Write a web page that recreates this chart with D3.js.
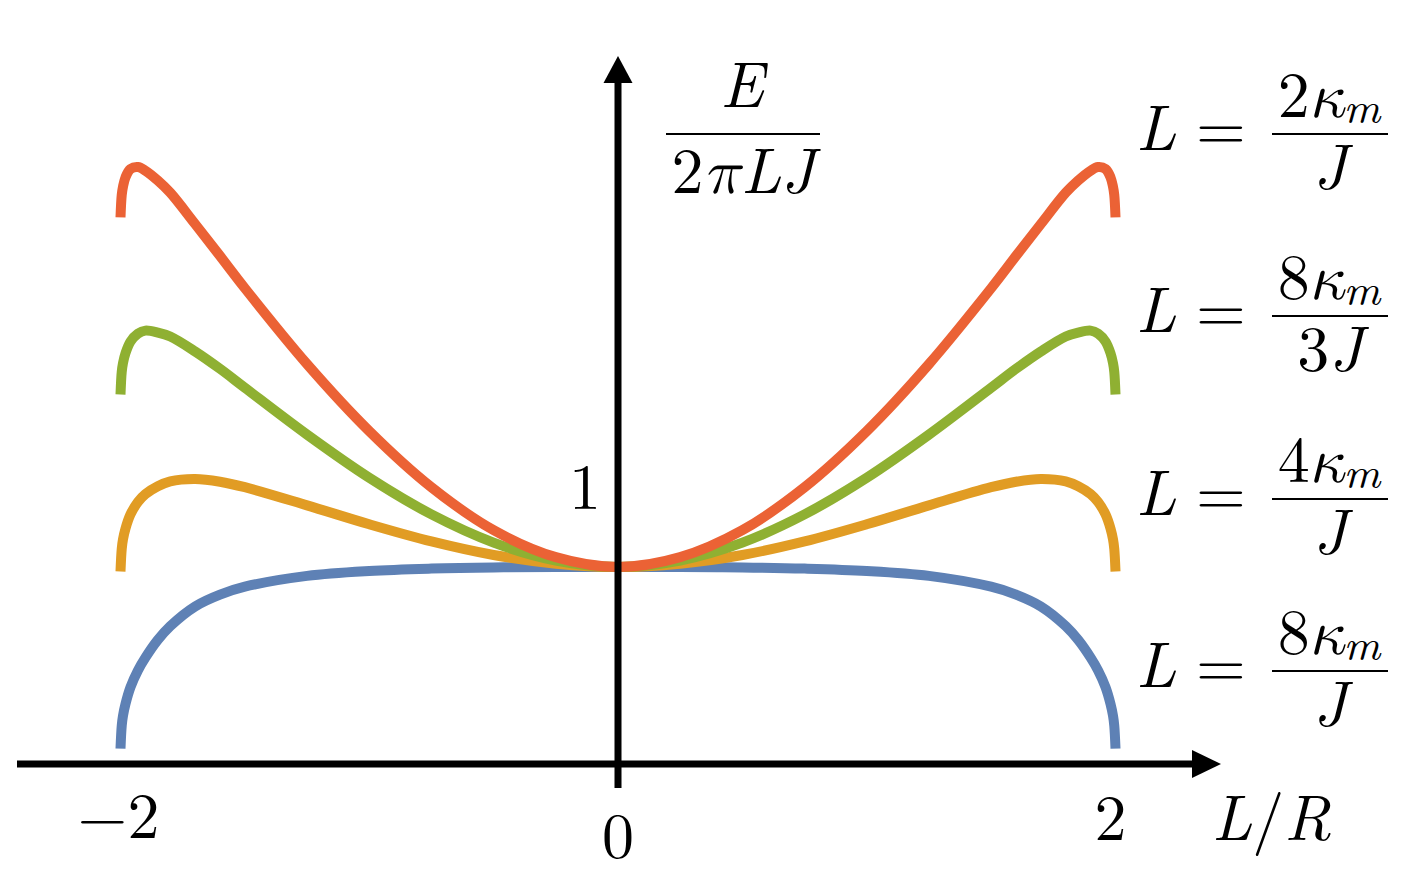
<!DOCTYPE html>
<html><head><meta charset="utf-8">
<script src="https://cdn.jsdelivr.net/npm/d3@7"></script>
<style>
body{margin:0;background:#fff}
svg{display:block}
text{font-family:"Latin Modern Roman","Liberation Serif",serif;fill:#000}
</style>
</head><body>
<svg id="c" width="1412" height="888"></svg>
<script>
// ---- data ----
const xVals = [-2, -1.995, -1.99, -1.98, -1.96, -1.93, -1.9, -1.85, -1.8, -1.7, -1.6, -1.5, -1.25, -1, -0.75, -0.5, -0.25,
  0, 0.25, 0.5, 0.75, 1, 1.25, 1.5, 1.6, 1.7, 1.8, 1.85, 1.9, 1.93, 1.96, 1.98, 1.99, 1.995, 2];

// L = 8κm/J
const blueVals = [0.078, 0.195, 0.245, 0.305, 0.39, 0.475, 0.54, 0.63, 0.70, 0.80, 0.86, 0.90, 0.955, 0.98, 0.992, 0.998, 1.0,
  1.0, 1.0, 0.998, 0.992, 0.98, 0.955, 0.90, 0.86, 0.80, 0.70, 0.63, 0.54, 0.475, 0.39, 0.305, 0.245, 0.195, 0.078];
// L = 4κm/J
const orangeVals = [0.977, 1.093, 1.14, 1.195, 1.267, 1.33, 1.37, 1.41, 1.435, 1.447, 1.433, 1.405, 1.313, 1.217, 1.13, 1.061, 1.017,
  1.0, 1.017, 1.061, 1.13, 1.217, 1.313, 1.405, 1.433, 1.447, 1.435, 1.41, 1.37, 1.33, 1.267, 1.195, 1.14, 1.093, 0.977];
// L = 8κm/3J
const greenVals = [1.876, 1.991, 2.035, 2.085, 2.144, 2.185, 2.20, 2.19, 2.17, 2.094, 2.006, 1.91, 1.672, 1.453, 1.267, 1.124, 1.033,
  1.0, 1.033, 1.124, 1.267, 1.453, 1.672, 1.91, 2.006, 2.094, 2.17, 2.19, 2.20, 2.185, 2.144, 2.085, 2.035, 1.991, 1.876];
// L = 2κm/J
const redVals = [2.775, 2.889, 2.93, 2.978, 3.02, 3.03, 3.012, 2.962, 2.90, 2.741, 2.579, 2.415, 2.03, 1.69, 1.405, 1.187, 1.05,
  1.0, 1.05, 1.187, 1.405, 1.69, 2.03, 2.415, 2.579, 2.741, 2.90, 2.962, 3.012, 3.03, 3.02, 2.978, 2.93, 2.889, 2.775];

const seriesColors = ["#5E81B5", "#E19C24", "#8FB032", "#EB6235"];
const xTickValues = [-2, 0, 2];
const xTickLabels = ["\u22122", "0", "2"];
const yTickValues = [1];
const yTickLabels = ["1"];

// legend labels (top to bottom): numerator coefficient, denominator coefficient
const legendNumCoef = ["2", "8", "4", "8"];
const legendDenCoef = ["", "3", "", ""];

// ---- drawing ----
const FS = 64;
const svg = d3.select("#c");
const x = d3.scaleLinear().domain([-2, 2]).range([120.5, 1115.5]);
const y = d3.scaleLinear().domain([0, 1]).range([764, 567]);

const series = [blueVals, orangeVals, greenVals, redVals];
const line = d3.line().x((d, i) => x(xVals[i])).y(d => y(d)).curve(d3.curveCatmullRom.alpha(0.5));

series.forEach((vals, k) => {
  svg.append("path").datum(vals)
    .attr("d", line)
    .attr("fill", "none")
    .attr("stroke", seriesColors[k])
    .attr("stroke-width", 10)
    .attr("stroke-linecap", "butt")
    .attr("stroke-linejoin", "round");
});

// axes
const x0 = x(0), y0 = y(0);
svg.append("line").attr("x1", 17).attr("x2", 1194).attr("y1", y0).attr("y2", y0)
  .attr("stroke", "#000").attr("stroke-width", 7);
svg.append("path").attr("d", `M1192,${y0-14} L1221,${y0} L1192,${y0+14} Z`).attr("fill", "#000");
svg.append("line").attr("x1", x0).attr("x2", x0).attr("y1", 788).attr("y2", 81)
  .attr("stroke", "#000").attr("stroke-width", 7);
svg.append("path").attr("d", `M${x0-14.5},83 L${x0},56 L${x0+14.5},83 Z`).attr("fill", "#000");

// helper: text made of parts
function addText(px, py, anchor, parts) {
  const t = svg.append("text").attr("x", px).attr("y", py).attr("text-anchor", anchor).attr("font-size", FS);
  parts.forEach(p => {
    const s = t.append("tspan").text(p.t);
    if (p.it) s.attr("font-style", "italic");
    if (p.greek) s.attr("font-family", "'Latin Modern Math','Latin Modern Roman',serif").attr("font-style", "italic");
    if (p.size) s.attr("font-size", p.size);
    if (p.dy) s.attr("dy", p.dy);
  });
  return t;
}

// x tick labels
const xOffsets = [-2, 0, -5];
const xBase = [838, 858, 840];
xTickValues.forEach((v, i) => {
  addText(x(v) + xOffsets[i], xBase[i], "middle", [{t: xTickLabels[i]}]);
});
// y tick label
yTickValues.forEach((v, i) => {
  addText(x0 - 33, y(v) - 58, "middle", [{t: yTickLabels[i]}]);
});

// x axis title L/R
addText(1212, 840, "start", [{t: "L", it: true}, {t: "/"}, {t: "R", it: true}]);

// y axis title E / (2πLJ)
addText(742, 107, "middle", [{t: "E", it: true}]);
svg.append("line").attr("x1", 666).attr("x2", 820).attr("y1", 134).attr("y2", 134)
  .attr("stroke", "#000").attr("stroke-width", 2.2);
addText(743, 193, "middle", [{t: "2"}, {t: "\u03C0", greek: true}, {t: "LJ", it: true}]);

// legend labels
const barYs = [134, 316, 499, 671];
barYs.forEach((by, k) => {
  addText(1136, by + 16, "start", [{t: "L", it: true}]);
  addText(1221, by + 16, "middle", [{t: "="}]);
  svg.append("line").attr("x1", 1272).attr("x2", 1388).attr("y1", by).attr("y2", by)
    .attr("stroke", "#000").attr("stroke-width", 2.2);
  addText(1329, by - 17, "middle", [{t: legendNumCoef[k]}, {t: "\u03BA", greek: true}, {t: "m", it: true, size: 45, dy: 6}]);
  const den = [];
  if (legendDenCoef[k]) den.push({t: legendDenCoef[k]});
  den.push({t: "J", it: true});
  addText(1330, by + 55, "middle", den);
});
</script>
</body></html>
